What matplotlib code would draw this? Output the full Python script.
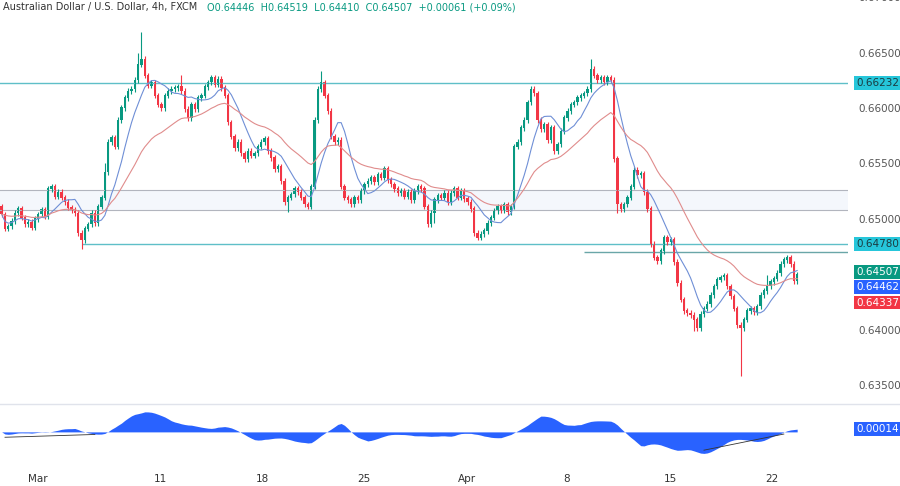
import matplotlib
matplotlib.use("Agg")
import matplotlib.pyplot as plt
import numpy as np
import pandas as pd

closes = [
0.6505,0.6492,0.6494, 0.6499,0.6506,0.6510, 0.6502,0.6496,0.6498, 0.6493,0.6501,0.6505,
0.6509,0.6503,0.6528, 0.6530,0.6521,0.6525, 0.6520,0.6516,0.6511, 0.6509,0.6506,0.6488,
0.6482,0.6492,0.6496, 0.6506,0.6497,0.6512, 0.6520,0.6543,0.6570, 0.6574,0.6566,0.6590,
0.6601,0.6610,0.6616, 0.6618,0.6626,0.6640, 0.6645,0.6630,0.6621, 0.6624,0.6612,0.6604,
0.6601,0.6612,0.6616, 0.6618,0.6619,0.6620, 0.6616,0.6600,0.6592, 0.6604,0.6600,0.6610,
0.6612,0.6620,0.6624, 0.6628,0.6622,0.6627, 0.6619,0.6612,0.6588, 0.6575,0.6565,0.6570,
0.6560,0.6555,0.6562, 0.6558,0.6560,0.6566, 0.6570,0.6573,0.6562, 0.6556,0.6546,0.6548,
0.6535,0.6516,0.6520, 0.6523,0.6528,0.6525, 0.6520,0.6514,0.6512, 0.6530,0.6590,0.6618,
0.6624,0.6612,0.6598, 0.6575,0.6570,0.6572, 0.6530,0.6520,0.6518, 0.6514,0.6520,0.6518,
0.6526,0.6532,0.6535, 0.6538,0.6534,0.6541, 0.6538,0.6546,0.6536, 0.6532,0.6528,0.6524,
0.6526,0.6521,0.6525, 0.6518,0.6526,0.6530, 0.6528,0.6512,0.6496, 0.6506,0.6518,0.6522,
0.6520,0.6524,0.6516, 0.6524,0.6528,0.6520, 0.6526,0.6519,0.6516, 0.6510,0.6488,0.6484,
0.6487,0.6490,0.6497, 0.6502,0.6508,0.6512, 0.6509,0.6514,0.6507, 0.6512,0.6566,0.6570,
0.6583,0.6590,0.6606, 0.6618,0.6614,0.6590, 0.6582,0.6586,0.6572, 0.6583,0.6562,0.6568,
0.6580,0.6592,0.6598, 0.6604,0.6606,0.6610, 0.6612,0.6614,0.6618, 0.6636,0.6630,0.6626,
0.6628,0.6624,0.6628, 0.6626,0.6555,0.6514, 0.6510,0.6514,0.6520, 0.6530,0.6545,0.6540,
0.6542,0.6525,0.6510, 0.6478,0.6466,0.6463, 0.6472,0.6484,0.6480, 0.6482,0.6462,0.6443,
0.6428,0.6418,0.6416, 0.6414,0.6410,0.6402, 0.6415,0.6420,0.6424, 0.6432,0.6440,0.6446,
0.6448,0.6450,0.6440, 0.6431,0.6420,0.6405, 0.6402,0.6410,0.6418, 0.6420,0.6417,0.6422,
0.6432,0.6436,0.6440, 0.6444,0.6447,0.6452, 0.6460,0.6464,0.6466, 0.6460,0.64446,0.64507]
first_open = 0.6512
extra_high = {42: 0.0022, 41: 0.0008, 96: 0.0008, 177: 0.0007, 31: 0.0006, 54: 0.0008, 230: 0.0008}
extra_low = {222: 0.0040, 24: 0.0006, 208: 0.0008, 86: 0.0006, 130: 0.0006, 185: 0.0005}
tick_pos = [11.4, 48, 78.6, 109, 140, 170, 201, 231.5]
tick_labels = ["Mar", "11", "18", "25", "Apr", "8", "15", "22"]
price_ticks = [0.635, 0.640, 0.650, 0.655, 0.660, 0.665, 0.670]
res_level = 0.66232
sup_level = 0.64780
sup2_level = 0.6471
zone = (0.6509, 0.6527)

GREEN, RED, BLUE = "#089981", "#f23645", "#2962ff"
c = np.array(closes)
n = len(c)
o = np.concatenate([[first_open], c[:-1]])
hi = np.maximum(o, c) + 0.00025
lo = np.minimum(o, c) - 0.00025
for k, v in extra_high.items(): hi[k] += v
for k, v in extra_low.items(): lo[k] -= v
s = pd.Series(c)
fast = s.rolling(9, min_periods=1).mean().values
slow = s.ewm(span=30, adjust=False).mean().values
osc = fast - slow

fig = plt.figure(figsize=(9, 4.86), dpi=100)
W, H = 900, 486
ax = fig.add_axes([0, (H-400)/H, 848/W, 400/H])
ax2 = fig.add_axes([0, (H-462)/H, 848/W, 57/H], sharex=ax)
x = np.arange(n)
ax.axhspan(zone[0], zone[1], color="#eef2fb", alpha=0.6, lw=0)
for z in zone:
    ax.axhline(z, color="#b2b5be", lw=0.8)
ax.axhline(res_level, color="#5fbfc8", lw=1)
ax.hlines(sup_level, 24, 300, color="#5fbfc8", lw=1)
ax.hlines(sup2_level, 175, 300, color="#6aa6a8", lw=1)
col = np.where(c >= o, GREEN, RED)
ax.vlines(x, lo, hi, colors=col, lw=0.8)
ax.bar(x, np.abs(c-o)+0.00004, bottom=np.minimum(o, c), width=0.7, color=col)
ax.plot(x, fast, color="#6f8fd6", lw=0.8)
ax.plot(x, slow, color="#e08c8c", lw=0.8)
ax.set_ylim(0.63375, 0.66983)
ax.set_xlim(-0.5, 848/3.335)
for a in (ax, ax2):
    for sp in a.spines.values(): sp.set_visible(False)
    a.tick_params(left=False, right=False, bottom=False, labelleft=False, labelbottom=False)
ax.set_yticks([])
for p in price_ticks:
    ax.text(1.0 + 10/848, p, f"{p:.5f}", transform=ax.get_yaxis_transform(), va="center",
            fontsize=7.5, color="#555555", clip_on=False)
def tag(a, y, txt, bg, fg="white"):
    a.text(1.0 + 8/848, y, txt, transform=a.get_yaxis_transform(), va="center", fontsize=7.5,
           color=fg, clip_on=False,
           bbox=dict(boxstyle="square,pad=0.18", fc=bg, ec="none"))
tag(ax, res_level, "0.66232", "#26c6da", "#1a3b40")
tag(ax, sup_level, "0.64780", "#26c6da", "#1a3b40")
tag(ax, 0.64530, "0.64507", GREEN)
tag(ax, 0.64392, "0.64462", BLUE)
tag(ax, 0.64254, "0.64337", RED)
ax.text(3/848, 0.995, "Australian Dollar / U.S. Dollar, 4h, FXCM  ", transform=ax.transAxes,
        fontsize=7, color="#333333", va="top")
ax.text(207/848, 0.995, "O0.64446  H0.64519  L0.64410  C0.64507  +0.00061 (+0.09%)",
        transform=ax.transAxes, fontsize=7, color=GREEN, va="top")
fig.add_artist(plt.Line2D([0, 1], [(H-404)/H]*2, color="#e0e3eb", lw=1))

ax2.fill_between(x, 0, osc, color=BLUE, lw=0)
m = np.abs(osc).max()
ax2.set_ylim(-m*1.4, m*1.25)
ax2.plot([1, 28], [-0.25*m, -0.12*m], color="#333333", lw=0.6)
ax2.plot([211, 235], [-0.85*m, -0.1*m], color="#333333", lw=0.6)
tag(ax2, osc[-1], "0.00014", BLUE)
for p, l in zip(tick_pos, tick_labels):
    fig.text(p*3.335/W, (H-479)/H, l, ha="center", va="center", fontsize=7.5, color="#333333")
fig.savefig("out.png", dpi=100)
